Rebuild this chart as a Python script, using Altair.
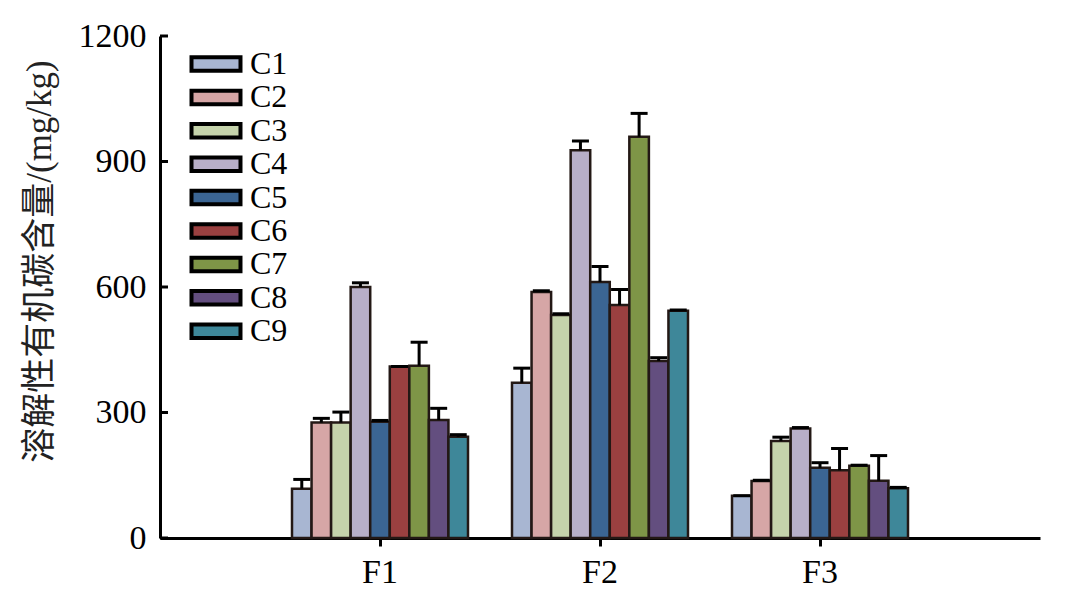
import altair as alt
import pandas as pd

groups = ["F1", "F2", "F3"]
classes = ["C1", "C2", "C3", "C4", "C5", "C6", "C7", "C8", "C9"]
colors = ["#A8B6D2", "#D6A6A6", "#C5D3AB", "#B8AFC8", "#3B6593",
          "#9A4040", "#7E9547", "#634E7F", "#3E8799"]

f1_vals = [118, 276, 276, 600, 278, 410, 412, 282, 242]
f1_errs = [22, 10, 25, 10, 3, 0, 56, 28, 5]
f2_vals = [371, 588, 533, 927, 612, 557, 959, 423, 543]
f2_errs = [35, 3, 3, 22, 37, 37, 56, 8, 2]
f3_vals = [101, 136, 232, 262, 168, 162, 173, 137, 119]
f3_errs = [0, 2, 9, 2, 12, 52, 1, 60, 2]

y_ticks = [0, 300, 600, 900, 1200]

rows = []
for g, vals, errs in [("F1", f1_vals, f1_errs), ("F2", f2_vals, f2_errs), ("F3", f3_vals, f3_errs)]:
    for c, v, e in zip(classes, vals, errs):
        rows.append({"F": g, "C": c, "value": v, "top": v + e})
df = pd.DataFrame(rows)
tick_df = pd.DataFrame({"t": y_ticks})

FONT = "Liberation Serif, Times New Roman, Noto Sans CJK SC"

x_enc = alt.X("F:N", sort=groups,
              scale=alt.Scale(paddingInner=0.2, paddingOuter=0.6),
              axis=alt.Axis(title=None, labelAngle=0, labelFont=FONT, labelFontSize=34,
                            labelColor="black", labelPadding=9, tickSize=8, tickWidth=3,
                            tickColor="black", domainColor="black", domainWidth=3, grid=False))
xoff = alt.XOffset("C:N", sort=classes, scale=alt.Scale(paddingInner=0, paddingOuter=0))
y_scale = alt.Scale(domain=[0, 1200], nice=False)

legend = alt.Legend(
    title=None, orient="none", legendX=40, legendY=12, padding=0,
    symbolType="M-2,-0.55H2V0.55H-2Z", symbolSize=600,
    symbolStrokeWidth=4, symbolStrokeColor="black", symbolOpacity=1,
    labelFont=FONT, labelFontSize=32, labelColor="black", labelOffset=18,
    rowPadding=1.4,
)

bars = alt.Chart(df).mark_bar(stroke="#231815", strokeWidth=2.5, opacity=1).encode(
    x=x_enc,
    xOffset=xoff,
    y=alt.Y("value:Q", scale=y_scale,
            axis=alt.Axis(values=y_ticks, format="d", title="溶解性有机碳含量/(mg/kg)", ticks=False,
                          labelFont=FONT, labelFontSize=34, labelColor="black", labelPadding=14,
                          domainColor="black", domainWidth=3, grid=False,
                          titleFont=FONT, titleFontSize=35, titleFontWeight="normal",
                          titleColor="#222222", titleX=-103, titleY=225)),
    color=alt.Color("C:N", sort=classes,
                    scale=alt.Scale(domain=classes, range=colors), legend=legend),
)

err = alt.Chart(df).mark_rule(color="black", strokeWidth=3).encode(
    x=alt.X("F:N", sort=groups), xOffset=alt.XOffset("C:N", sort=classes),
    y="value:Q", y2="top:Q",
)
cap = alt.Chart(df).mark_tick(color="black", thickness=3, size=17, opacity=1).encode(
    x=alt.X("F:N", sort=groups), xOffset=alt.XOffset("C:N", sort=classes),
    y="top:Q",
)
yticks = alt.Chart(tick_df).mark_rule(color="black", strokeWidth=3).encode(
    y="t:Q", x=alt.value(0), x2=alt.value(8),
)

chart = alt.layer(bars, err, cap, yticks).properties(
    width=880, height=502,
    autosize=alt.AutoSizeParams(type="none"),
    padding={"left": 152, "top": 28, "right": 30, "bottom": 60},
).configure_view(stroke=None)

chart.save("out.html", embed_options={"renderer": "svg", "actions": False})
